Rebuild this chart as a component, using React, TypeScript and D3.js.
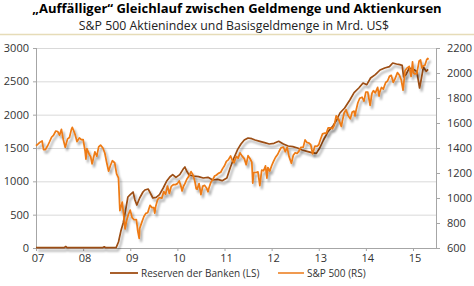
import React from "react";
import * as d3 from "d3";

const title = "„Auffälliger“ Gleichlauf zwischen Geldmenge und Aktienkursen";
const subtitle = "S&P 500 Aktienindex und Basisgeldmenge in Mrd. US$";
const seriesNames = ["Reserven der Banken (LS)", "S&P 500 (RS)"];
const leftTicks = [0, 500, 1000, 1500, 2000, 2500, 3000];
const rightTicks = [600, 800, 1000, 1200, 1400, 1600, 1800, 2000, 2200];
const yearTicks = ["07", "08", "09", "10", "11", "12", "13", "14", "15"];

// Reserven der Banken (Mrd. US$), [decimal year, value]
const reserves: [number, number][] = [
  [2007.0, 5], [2007.3, 5], [2007.6, 6], [2007.63, 22], [2007.66, 6], [2007.9, 5],
  [2008.1, 5], [2008.42, 6], [2008.45, 18], [2008.48, 5], [2008.7, 5],
  [2008.75, 90], [2008.8, 250], [2008.85, 375], [2008.9, 560], [2008.95, 765],
  [2009.0, 800], [2009.06, 840], [2009.1, 720], [2009.14, 645], [2009.2, 750],
  [2009.27, 840], [2009.31, 870], [2009.38, 885], [2009.43, 820], [2009.48, 750],
  [2009.55, 760], [2009.62, 800], [2009.7, 900], [2009.77, 1000], [2009.84, 1065],
  [2009.9, 1100], [2009.97, 1060], [2010.05, 1100], [2010.12, 1180], [2010.16, 1215],
  [2010.2, 1150], [2010.25, 1095], [2010.35, 1080], [2010.45, 1070], [2010.55, 1050],
  [2010.65, 1060], [2010.75, 1020], [2010.85, 1030], [2010.95, 1010], [2011.05, 1050],
  [2011.12, 1200], [2011.2, 1350], [2011.28, 1480], [2011.35, 1560], [2011.42, 1620],
  [2011.5, 1650], [2011.58, 1640], [2011.65, 1620], [2011.75, 1600], [2011.85, 1580],
  [2011.95, 1560], [2012.05, 1570], [2012.15, 1600], [2012.25, 1560], [2012.35, 1530],
  [2012.45, 1520], [2012.55, 1500], [2012.65, 1470], [2012.75, 1450], [2012.85, 1430],
  [2012.95, 1420], [2013.02, 1500], [2013.1, 1620], [2013.2, 1750], [2013.3, 1830],
  [2013.38, 1920], [2013.45, 2025], [2013.55, 2100], [2013.66, 2220], [2013.75, 2330],
  [2013.85, 2400], [2013.94, 2475], [2014.02, 2450], [2014.1, 2550], [2014.2, 2600],
  [2014.3, 2670], [2014.4, 2700], [2014.5, 2720], [2014.57, 2775], [2014.65, 2760],
  [2014.72, 2750], [2014.77, 2740], [2014.8, 2565], [2014.85, 2600], [2014.92, 2700],
  [2015.0, 2680], [2015.08, 2650], [2015.14, 2400], [2015.18, 2550], [2015.22, 2715],
  [2015.28, 2650], [2015.32, 2680],
];

// S&P 500 index, [decimal year, value]
const spx: [number, number][] = [
  [2007.0, 1418], [2007.04, 1431], [2007.08, 1445], [2007.13, 1456], [2007.16, 1387],
  [2007.2, 1387], [2007.25, 1420], [2007.29, 1452], [2007.33, 1486], [2007.37, 1501],
  [2007.42, 1536], [2007.46, 1532], [2007.5, 1503], [2007.54, 1549], [2007.58, 1465],
  [2007.62, 1406], [2007.67, 1473], [2007.71, 1484], [2007.75, 1547], [2007.77, 1565],
  [2007.79, 1548], [2007.83, 1508], [2007.87, 1451], [2007.92, 1481], [2007.96, 1467],
  [2008.0, 1468], [2008.04, 1380], [2008.06, 1310], [2008.08, 1395], [2008.13, 1349],
  [2008.16, 1331], [2008.19, 1273], [2008.2, 1288], [2008.25, 1370], [2008.29, 1334],
  [2008.33, 1409], [2008.37, 1423], [2008.42, 1400], [2008.46, 1360], [2008.5, 1284],
  [2008.54, 1215], [2008.58, 1260], [2008.62, 1298], [2008.67, 1282], [2008.71, 1193],
  [2008.75, 1161], [2008.78, 899], [2008.79, 907], [2008.83, 968], [2008.89, 752],
  [2008.92, 816], [2008.96, 868], [2009.0, 903], [2009.04, 843], [2009.08, 826],
  [2009.13, 827], [2009.16, 735], [2009.19, 677], [2009.2, 756], [2009.25, 811],
  [2009.29, 852], [2009.33, 877], [2009.37, 882], [2009.42, 942], [2009.46, 923],
  [2009.5, 923], [2009.52, 879], [2009.54, 932], [2009.58, 987], [2009.62, 1004],
  [2009.67, 998], [2009.71, 1052], [2009.75, 1030], [2009.79, 1096], [2009.83, 1036],
  [2009.87, 1093], [2009.92, 1108], [2009.96, 1107], [2010.0, 1115], [2010.04, 1136],
  [2010.08, 1089], [2010.1, 1056], [2010.13, 1094], [2010.16, 1115], [2010.2, 1150],
  [2010.25, 1178], [2010.29, 1211], [2010.33, 1187], [2010.37, 1135], [2010.4, 1074],
  [2010.42, 1070], [2010.46, 1116], [2010.5, 1027], [2010.54, 1095], [2010.58, 1101],
  [2010.62, 1079], [2010.65, 1050], [2010.67, 1080], [2010.71, 1125], [2010.75, 1146],
  [2010.79, 1176], [2010.83, 1184], [2010.87, 1197], [2010.92, 1206], [2010.96, 1235],
  [2011.0, 1258], [2011.04, 1293], [2011.08, 1305], [2011.13, 1336], [2011.16, 1306],
  [2011.2, 1281], [2011.25, 1332], [2011.29, 1319], [2011.33, 1361], [2011.37, 1337],
  [2011.42, 1315], [2011.46, 1266], [2011.5, 1339], [2011.54, 1316], [2011.58, 1287],
  [2011.6, 1119], [2011.62, 1204], [2011.67, 1204], [2011.71, 1209], [2011.75, 1099],
  [2011.79, 1224], [2011.83, 1218], [2011.87, 1257], [2011.9, 1159], [2011.92, 1244],
  [2011.96, 1215], [2012.0, 1258], [2012.04, 1293], [2012.08, 1324], [2012.13, 1350],
  [2012.16, 1374], [2012.2, 1402], [2012.25, 1408], [2012.29, 1370], [2012.33, 1405],
  [2012.37, 1331], [2012.42, 1278], [2012.46, 1342], [2012.5, 1362], [2012.54, 1356],
  [2012.58, 1375], [2012.62, 1405], [2012.67, 1406], [2012.71, 1465], [2012.75, 1444],
  [2012.79, 1440], [2012.83, 1427], [2012.87, 1353], [2012.92, 1416], [2012.96, 1413],
  [2013.0, 1426], [2013.04, 1472], [2013.08, 1513], [2013.13, 1519], [2013.16, 1518],
  [2013.2, 1561], [2013.25, 1562], [2013.29, 1553], [2013.33, 1582], [2013.37, 1658],
  [2013.42, 1631], [2013.48, 1573], [2013.5, 1614], [2013.54, 1682], [2013.58, 1706],
  [2013.62, 1661], [2013.67, 1633], [2013.71, 1688], [2013.75, 1695], [2013.77, 1656],
  [2013.79, 1698], [2013.83, 1762], [2013.87, 1798], [2013.92, 1806], [2013.96, 1775],
  [2014.0, 1848], [2014.04, 1848], [2014.09, 1741], [2014.13, 1838], [2014.16, 1859],
  [2014.2, 1841], [2014.25, 1885], [2014.28, 1815], [2014.29, 1842], [2014.33, 1884],
  [2014.37, 1871], [2014.42, 1924], [2014.46, 1936], [2014.5, 1973], [2014.54, 1981],
  [2014.58, 1925], [2014.62, 1955], [2014.67, 2003], [2014.71, 1984], [2014.75, 1946],
  [2014.79, 1862], [2014.83, 2018], [2014.87, 2039], [2014.92, 2053], [2014.96, 1972],
  [2014.99, 2090], [2015.01, 2002], [2015.04, 1992], [2015.08, 1995], [2015.13, 2096],
  [2015.16, 2104], [2015.19, 2040], [2015.2, 2053], [2015.25, 2060], [2015.29, 2106],
  [2015.31, 2117], [2015.33, 2108],
];

const W = 474;
const H = 286;
const left = 36;
const right = 436;
const top = 48;
const bottom = 248;

export default function App() {
  const x = d3.scaleLinear().domain([2007, 2015]).range([left, 413]);
  const yL = d3.scaleLinear().domain([0, 3000]).range([bottom, top]);
  const yR = d3.scaleLinear().domain([600, 2200]).range([bottom, top]);

  const lineL = d3.line<[number, number]>().x((d) => x(d[0])).y((d) => yL(d[1]));
  const lineR = d3.line<[number, number]>().x((d) => x(d[0])).y((d) => yR(d[1]));

  const brown = "#9c4d12";
  const orange = "#ee7a12";
  const font = "'Open Sans', sans-serif";
  const axisColor = "#a6a6a6";
  const textColor = "#333";

  return (
    <svg width={W} height={H} style={{ position: "absolute", left: 0, top: 0 }} fontFamily={font}>
      <defs>
        <filter id="sh" x="-10%" y="-10%" width="130%" height="130%">
          <feDropShadow dx="2" dy="3" stdDeviation="1.3" floodColor="#000" floodOpacity="0.35" />
        </filter>
      </defs>
      <rect width={W} height={H} fill="#fff" />
      <text x={237} y={13} textAnchor="middle" fontSize={13} fontWeight="bold" fill="#000">
        {title}
      </text>
      <text x={234} y={30} textAnchor="middle" fontSize={12.3} fill="#222">
        {subtitle}
      </text>
      <line x1={0} x2={W} y1={34.5} y2={34.5} stroke="#e6dcb8" strokeWidth={1.5} />

      {leftTicks.map((t) => (
        <g key={"l" + t}>
          {t > 0 && (
            <line x1={left} x2={right} y1={yL(t) + 0.5} y2={yL(t) + 0.5} stroke="#d9d9d9" strokeWidth={1} />
          )}
          <line x1={left - 3} x2={left} y1={yL(t) + 0.5} y2={yL(t) + 0.5} stroke={axisColor} />
          <text x={29} y={yL(t) + 4} textAnchor="end" fontSize={11} fill={textColor}>
            {t}
          </text>
        </g>
      ))}
      {rightTicks.map((t) => (
        <g key={"r" + t}>
          <line x1={right} x2={right + 4} y1={yR(t) + 0.5} y2={yR(t) + 0.5} stroke={axisColor} />
          <text x={447} y={yR(t) + 4} textAnchor="start" fontSize={11} fill={textColor}>
            {t}
          </text>
        </g>
      ))}
      <line x1={left + 0.5} x2={left + 0.5} y1={top} y2={bottom} stroke={axisColor} />
      <line x1={right + 0.5} x2={right + 0.5} y1={top} y2={bottom} stroke={axisColor} />
      <line x1={left} x2={right} y1={bottom + 0.5} y2={bottom + 0.5} stroke={axisColor} />
      {yearTicks.map((t, i) => (
        <g key={"x" + t}>
          <line x1={x(2007 + i) + 0.5} x2={x(2007 + i) + 0.5} y1={bottom} y2={bottom + 3} stroke={axisColor} />
          <text x={x(2007 + i) + 2} y={bottom + 14} textAnchor="middle" fontSize={11} fill={textColor}>
            {t}
          </text>
        </g>
      ))}

      <path d={lineL(reserves) || ""} fill="none" stroke={brown} strokeWidth={1.7} filter="url(#sh)" strokeLinejoin="round" />
      <path d={lineR(spx) || ""} fill="none" stroke={orange} strokeWidth={1.7} filter="url(#sh)" strokeLinejoin="round" />

      <line x1={110} x2={138} y1={273} y2={273} stroke="#a9602c" strokeWidth={2} />
      <text x={141} y={277} fontSize={10} fill={textColor}>{seriesNames[0]}</text>
      <line x1={278} x2={304} y1={273} y2={273} stroke="#f09a50" strokeWidth={2} />
      <text x={307} y={277} fontSize={10} fill={textColor}>{seriesNames[1]}</text>
    </svg>
  );
}
